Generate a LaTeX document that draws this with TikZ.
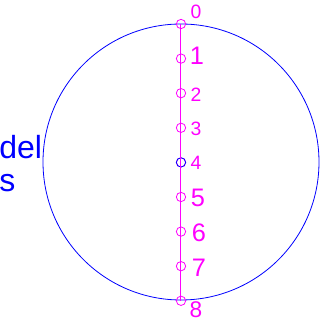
\documentclass[tikz,border=0pt]{standalone}
\usepackage{fontspec}
\setmainfont{Liberation Sans}
\definecolor{blueline}{RGB}{0,0,255}
\definecolor{pinkline}{RGB}{255,0,255}
\tikzset{
  pt/.style={circle, draw=pinkline, line width=0.6pt, inner sep=0pt, minimum size=7pt},
  smallnum/.style={text=pinkline, font=\fontsize{14.5}{16}\selectfont, inner sep=0pt},
  bignum/.style={text=pinkline, font=\fontsize{19}{21}\selectfont, inner sep=0pt},
}
\begin{document}
\begin{tikzpicture}[x=0.75pt, y=-0.75pt]
  \useasboundingbox (0,0) rectangle (326,320);

  % Cercle
  \draw[blueline, line width=0.6pt] (181,162) circle (138);

  % Texte a gauche
  \node[text=blueline, font=\fontsize{24}{26}\selectfont, anchor=base west, inner sep=0pt] (t1) at (-1,159) {del};
  \node[text=blueline, font=\fontsize{24}{26}\selectfont, anchor=base west, inner sep=0pt] (t2) at (-1,192) {s};

  % Points
  \foreach \i in {0,...,8}
    \node[pt] (p\i) at (181,{24+\i*34.6}) {};
  \node[pt, draw=blueline] at (p4) {};

  % Axe
  \draw[pinkline, line width=0.75pt] (p0.center) -- (p8.center);

  % Etiquettes
  \node[smallnum] (l0) at (196,12) {0};
  \node[bignum] (l1) at (197,56) {1};
  \node[smallnum] (l2) at (196,95) {2};
  \node[smallnum] (l3) at (196,129) {3};
  \node[smallnum] (l4) at (196,163) {4};
  \node[bignum] (l5) at (198,198) {5};
  \node[bignum] (l6) at (199,233) {6};
  \node[bignum] (l7) at (199,268) {7};
  \node[bignum, font=\fontsize{17}{19}\selectfont] (l8) at (196,310) {8};
\end{tikzpicture}
\end{document}
